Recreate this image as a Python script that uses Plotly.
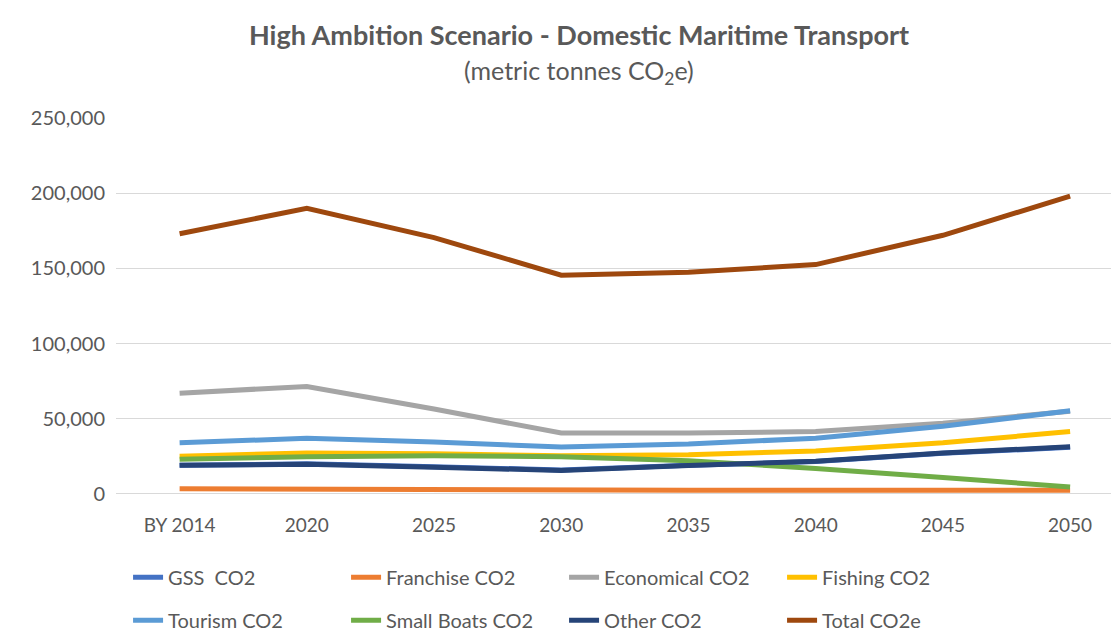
import plotly.graph_objects as go

categories = ["BY 2014", "2020", "2025", "2030", "2035", "2040", "2045", "2050"]

gss = [19000, 20000, 18000, 16000, 19000, 21500, 27000, 31000]
franchise = [3500, 3200, 2500, 2500, 2500, 2500, 2500, 2500]
economical = [67000, 71500, 56500, 40500, 40500, 41500, 47000, 55000]
fishing = [25000, 27300, 26700, 25400, 26000, 28600, 34000, 41500]
tourism = [34000, 37000, 34500, 31200, 33200, 37100, 45000, 55300]
small_boats = [23000, 24700, 25400, 24700, 22100, 17000, 11000, 4600]
other = [19000, 19800, 17800, 15600, 18900, 21800, 27300, 31300]
total = [173000, 190000, 170500, 145500, 147500, 152500, 172000, 198000]

y_ticks = [0, 50000, 100000, 150000, 200000, 250000]
y_tick_labels = ["0", "50,000", "100,000", "150,000", "200,000", "250,000"]

series = [
    ("GSS  CO2", gss, "#4472C4", "legend"),
    ("Franchise CO2", franchise, "#ED7D31", "legend"),
    ("Economical CO2", economical, "#A5A5A5", "legend"),
    ("Fishing CO2", fishing, "#FFC000", "legend"),
    ("Tourism CO2", tourism, "#5B9BD5", "legend2"),
    ("Small Boats CO2", small_boats, "#70AD47", "legend2"),
    ("Other CO2", other, "#264478", "legend2"),
    ("Total CO2e", total, "#9E480E", "legend2"),
]

fig = go.Figure()
for name, vals, color, lg in series:
    fig.add_trace(go.Scatter(
        x=categories, y=vals, name=name, mode="lines",
        line=dict(color=color, width=5),
        legend=lg,
    ))

font_family = "Lato, 'Open Sans', sans-serif"
txt = "#595959"

# plot area spans y 110..634 px; axis drawn in 110..494
H = 524.0
def py(px):
    return (634 - px) / H

legend_common = dict(
    orientation="h", xanchor="left", yanchor="middle",
    entrywidth=173, entrywidthmode="pixels",
    font=dict(family=font_family, size=20, color=txt),
    bgcolor="rgba(0,0,0,0)", itemwidth=30,
)

fig.update_layout(
    width=1119, height=634,
    margin=dict(l=108, r=6, t=110, b=0),
    paper_bgcolor="white", plot_bgcolor="white",
    font=dict(family=font_family, color=txt),
    showlegend=True,
    legend=dict(x=0.012, y=py(579), **legend_common),
    legend2=dict(x=0.012, y=py(623), **legend_common),
    xaxis=dict(
        type="category", range=[-0.5, 7.4],
        showgrid=False, showline=False, ticks="",
        tickfont=dict(size=19, color=txt, family=font_family),
        ticklabelstandoff=18,
    ),
    yaxis=dict(
        domain=[py(494), 1],
        range=[0, 250000], tickvals=y_ticks, ticktext=y_tick_labels,
        showgrid=True, gridcolor="#D9D9D9", gridwidth=1,
        zeroline=True, zerolinecolor="#D9D9D9", zerolinewidth=1,
        showline=False, ticks="",
        tickfont=dict(size=20, color=txt, family=font_family),
        ticklabelstandoff=10,
    ),
    annotations=[
        dict(text="<b>High Ambition Scenario - Domestic Maritime Transport</b>",
             xref="paper", yref="paper", x=(571 - 108) / 1005, y=py(25),
             xanchor="center", yanchor="middle", showarrow=False,
             font=dict(size=27, color=txt, family=font_family)),
        dict(text="(metric tonnes CO<sub>2</sub>e)",
             xref="paper", yref="paper", x=(571 - 108) / 1005, y=py(63),
             xanchor="center", yanchor="middle", showarrow=False,
             font=dict(size=25, color=txt, family=font_family)),
    ],
)

fig.write_html("out.html")
